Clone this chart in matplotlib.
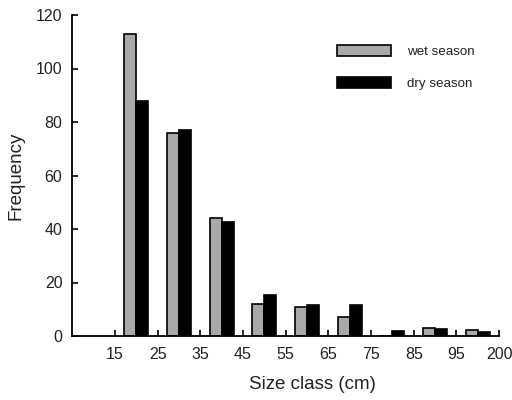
import matplotlib
matplotlib.use("Agg")
import matplotlib.pyplot as plt
import numpy as np

plt.rcParams['font.family'] = ['Liberation Sans', 'DejaVu Sans']

tick_labels = ["15", "25", "35", "45", "55", "65", "75", "85", "95", "200"]
wet = [113, 76, 44, 12, 10.7, 7.2, 0, 3, 2.2]
dry = [88, 77, 42.5, 15.5, 11.6, 11.6, 2, 2.5, 1.6]

fig = plt.figure(figsize=(5.12, 4.0), dpi=100)
ax = fig.add_axes([0.141, 0.16, 0.834, 0.8025])

x = np.arange(len(wet)) + 0.5
w = 0.28
ax.bar(x - w/2, wet, w, color='#a9a9a9', edgecolor='black', linewidth=1.2, label='wet season')
ax.bar(x + w/2, dry, w, color='black', edgecolor='black', linewidth=1.2, label='dry season')

ax.set_xlim(-1, 9)
ax.set_ylim(0, 120)
ax.set_xticks(np.arange(len(tick_labels)))
ax.set_xticklabels(tick_labels)
ax.set_yticks(np.arange(0, 121, 20))
for s in ['top', 'right']:
    ax.spines[s].set_visible(False)
for s in ['left', 'bottom']:
    ax.spines[s].set_linewidth(1.3)
ax.tick_params(direction='in', length=4, width=1.2, labelsize=11.5, labelcolor='#222222')
ax.tick_params(axis='x', pad=8)
ax.tick_params(axis='y', pad=7)
ax.set_xlabel('Size class (cm)', fontsize=13.5, labelpad=12, color='#222222')
ax.xaxis.set_label_coords(0.562, -0.125)
ax.set_ylabel('Frequency', fontsize=13.5, labelpad=8, color='#222222')

leg = ax.legend(loc='upper left', bbox_to_anchor=(0.593, 0.944), frameon=False,
                fontsize=9.6, handlelength=4.05, handleheight=0.9, labelspacing=1.4,
                handletextpad=1.2)
for t in leg.get_texts():
    t.set_color('#222222')

fig.savefig('out.png', dpi=100)
